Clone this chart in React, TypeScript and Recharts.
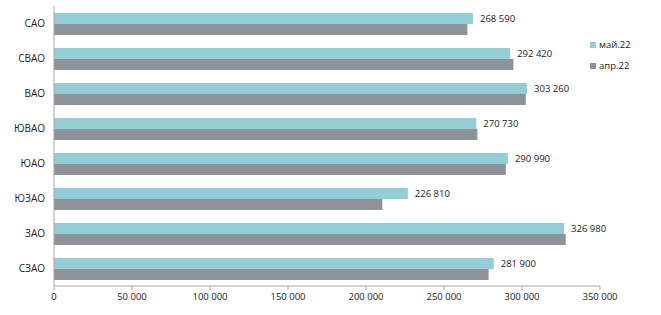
import { Bar, BarChart, LabelList, XAxis, YAxis } from "recharts";

const districts = ["САО", "СВАО", "ВАО", "ЮВАО", "ЮАО", "ЮЗАО", "ЗАО", "СЗАО"];
const may22 = [268590, 292420, 303260, 270730, 290990, 226810, 326980, 281900];
const apr22 = [265000, 294500, 302400, 271400, 289600, 210500, 328000, 278600];
const xTicks = [0, 50000, 100000, 150000, 200000, 250000, 300000, 350000];
const bandTicks = [0, 1, 2, 3, 4, 5, 6, 7, 8];

const data = districts.map((name, i) => ({
  name,
  may: may22[i],
  apr: apr22[i],
}));

const FONT = "'Open Sans', sans-serif";
const TEXT = "#222";
const AXIS = "#a6a6a6";
const CYAN = "#93cdd6";
const GREY = "#8e9399";

const series = [
  { key: "may", name: "май.22", color: CYAN },
  { key: "apr", name: "апр.22", color: GREY },
];

const fmt = (v: number) => v.toLocaleString("ru-RU").replace(/\s/g, " ");

export default function App() {
  return (
    <div style={{ position: "absolute", left: 0, top: 0, background: "#fff" }}>
      <BarChart
        width={661}
        height={315}
        data={data}
        layout="vertical"
        margin={{ top: 6, right: 61, bottom: 5, left: 8 }}
        barCategoryGap="20%"
        barGap={0}
      >
        <YAxis
          yAxisId="bands"
          type="number"
          domain={[0, 8]}
          ticks={bandTicks}
          tick={false}
          tickLine={{ stroke: AXIS }}
          tickSize={4}
          axisLine={false}
          width={0}
        />
        <YAxis
          yAxisId="cat"
          type="category"
          dataKey="name"
          width={46}
          axisLine={{ stroke: AXIS }}
          tickLine={false}
          tickSize={4}
          tickMargin={5}
          tick={{ fontSize: 10, fill: TEXT, fontFamily: FONT }}
        />
        <XAxis
          type="number"
          domain={[0, 350000]}
          ticks={xTicks}
          tickFormatter={fmt}
          axisLine={{ stroke: AXIS }}
          tickLine={{ stroke: AXIS }}
          tickSize={4}
          tickMargin={3}
          height={24}
          tick={{ fontSize: 9.5, fill: TEXT, fontFamily: FONT }}
        />
        {series.map((s) => (
          <Bar
            key={s.key}
            yAxisId="cat"
            dataKey={s.key}
            name={s.name}
            fill={s.color}
            isAnimationActive={false}
          >
            {s.key === "may" && (
              <LabelList
                dataKey="may"
                position="right"
                offset={7}
                formatter={(v: number) => fmt(v)}
                style={{ fontSize: 9.5, fill: TEXT, fontFamily: FONT }}
              />
            )}
          </Bar>
        ))}
      </BarChart>
      <div
        style={{
          position: "absolute",
          left: 590,
          top: 34,
          fontFamily: FONT,
          fontSize: 9.5,
          color: TEXT,
        }}
      >
        {series.map((s) => (
          <div key={s.key} style={{ display: "flex", alignItems: "center", height: 21 }}>
            <span
              style={{ width: 6, height: 6, background: s.color, marginRight: 3, display: "inline-block" }}
            />
            {s.name}
          </div>
        ))}
      </div>
    </div>
  );
}
